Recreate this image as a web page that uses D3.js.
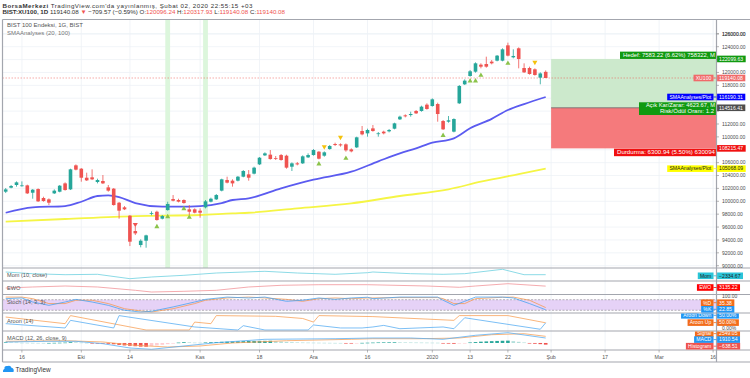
<!doctype html>
<html>
  <head>
    <meta charset="utf-8">
    <script src="https://d3js.org/d3.v7.min.js"></script>
    <style>
      body { margin: 0; background: #fff; }
      svg { display: block; font-family: "Liberation Sans", Arial, sans-serif; }
    </style>
  </head>
  <body>
    <script>
    // daily candles, index 0 = 11 Sep 2019 ... index 100 = 31 Jan 2020
    var opens = [
      101490,102110,102530,102370,102470,101330,101900,100510,100300,101230,
      101490,102780,101850,105580,105060,103660,103720,102990,103150,102160,
      101960,99780,99060,97760,95380,93210,93880,98070,98380,97300,
      98640,100350,100200,100200,98750,98750,98540,99060,99940,100300,
      101650,103300,103200,103200,103820,104180,104290,105730,107130,107240,
      106720,107180,107080,105370,105890,105890,106820,107180,107700,107080,
      108110,108890,108840,108840,108060,108370,110910,110550,111320,110440,
      110810,110860,111270,112720,113340,113390,114020,114020,115000,114790,
      115100,112460,112360,110810,115210,118160,119450,120120,121210,121310,
      121680,121830,121830,124210,122350,123750,120690,120690,120490,119190,
      120096.24];
    var highs = [
      102060,102530,103090,103090,102580,101900,102010,100710,100450,101850,
      102530,102940,105060,105730,105160,104440,104960,103510,104080,102530,
      102060,99890,99260,97870,96060,94090,94810,98440,98540,97870,
      99940,100970,100400,100300,99420,98900,98900,100200,100560,101130,
      103510,103820,103410,103920,104850,104850,105370,106870,107600,107960,
      107030,107340,107230,106040,106100,107130,107440,108110,107800,107750,
      108740,109100,108990,108990,108220,110030,111690,111270,111840,110750,
      110960,111220,112200,113290,113500,113910,114170,114840,115210,115980,
      115310,112620,113240,112880,118050,118930,120380,121570,121420,122450,
      121930,122710,123750,124630,123590,123900,121420,120900,120640,120020,
      120317.93];
    var lows = [
      101280,102010,102270,102270,101130,100400,99890,99940,99420,101130,
      101390,101650,101750,104800,103040,103150,103300,102780,102680,101490,
      99320,97300,98640,93050,94760,92850,92790,97820,96990,97190,
      98540,99990,99830,99630,97870,98130,97450,98900,99830,100200,
      101540,102780,102270,103090,103720,103200,104180,105630,107030,106460,
      106410,106300,105060,104700,105580,105790,106720,107080,106510,106920,
      108010,108580,108480,107700,107600,108270,110240,110030,110810,110030,
      110390,110700,111170,112620,113030,113140,113550,113910,114220,114690,
      112360,111070,112200,110700,115100,118050,119350,119970,120640,120740,
      121260,121730,121730,122500,122190,120640,119920,119660,119500,118160,
      119140.08];
    var closes = [
      101850,102370,102940,102470,101230,101800,99990,100040,99780,101650,
      102420,101750,104960,104910,103660,103250,103410,103300,102780,101650,
      99420,98540,98750,93730,95020,93880,94710,98180,97090,97710,
      99580,100090,99940,99730,98380,98230,98230,99990,100400,100970,
      103410,102890,102780,103820,104700,103660,105220,106770,107440,106560,
      106610,106410,105220,105890,105730,106980,107180,107960,106610,107600,
      108580,108740,108680,107910,107750,109930,110390,111070,110910,110550,
      110550,111070,112100,113140,113190,113550,113650,114690,114330,115830,
      113550,111170,112570,112770,117900,118730,120180,121420,120900,120900,
      121420,122610,123590,122610,122560,122090,120020,119760,119610,119850,
      119140.08];

    // date axis (bar index of each label, future bars included)
    var tickIdx = [3, 14, 23, 36, 47, 57, 67, 79, 86, 93, 101, 111, 121, 131];
    var tickLabels = ["16", "Eki", "14", "Kas", "18", "Ara", "16", "2020", "13", "22", "Şub", "17", "Mar", "16"];
    var priceTicks = d3.range(90000, 126001, 2000);

    // SMA 20 / SMA 100
    var sma20Idx = [0, 5, 11, 14, 17, 19, 21, 24, 29, 32, 36, 38, 40, 42, 45, 51, 57, 64, 69, 73, 76, 79, 83, 86, 90, 93, 96, 100];
    var sma20 = [98220, 99060, 99260, 99930, 100820, 100930, 100660, 99730, 99160, 99160, 99260, 99420, 99730, 100200, 100460, 102010, 103360, 104590, 106200, 107450, 108220, 109090, 109780, 111330, 112800, 114170, 115100, 116190.31];
    var sma100Idx = [0, 11, 24, 36, 42, 45, 54, 64, 73, 82, 88, 95, 100];
    var sma100 = [96830, 97250, 97710, 97870, 98130, 98220, 98910, 99680, 100820, 101860, 103040, 104230, 105068.09];

    // signal markers
    var markIdx = [24, 28, 30, 33, 34, 58, 59, 62, 63, 81, 86, 87, 88, 93, 98];
    var markPrice = [96420, 96050, 97600, 98850, 97510, 105790, 108470, 109930, 106670, 110210, 118670, 118670, 119560, 121420, 121580];
    var markKind = ["sellRed", "buy", "buy", "buy", "buy", "buy", "sell", "sell", "buy", "buy", "buy", "buy", "buy", "buy", "sell"];
    var highlightIdx = [30, 37];

    // long position tool
    var posStart = 101;
    var posTarget = 122099.63, posEntry = 114516.41, posStop = 108215.47;

    // indicators (sampled at bar indices)
    var momIdx = [0, 5, 11, 17, 23, 27, 33, 39, 48, 54, 61, 67, 68, 75, 81, 85, 92, 96, 100];
    var mom = [2610, -520, -2370, -1630, -9750, -6620, -3480, 770, 3910, 770, -1630, 1320, 2610, -520, -1630, -520, 7600, -2370, -2334.67];
    var ewoIdx = [0, 5, 11, 17, 24, 27, 33, 39, 45, 51, 58, 67, 78, 84, 87, 93, 100];
    var ewo = [0, 1670, 3330, 1670, -3830, -6670, -5500, -3830, 1670, 4500, 5500, 5500, 3330, 1170, 3330, 7170, 3135.22];
    var stochIdx = [0, 3, 5, 8, 11, 13, 16, 19, 22, 25, 27, 31, 35, 37, 41, 45, 48, 52, 55, 58, 61, 64, 67, 68, 73, 80, 81, 83, 85, 87, 92, 94, 97, 100];
    var stochK = [86, 90, 67, 48, 67, 82, 67, 48, 20, 10, 14, 39, 67, 82, 95, 90, 95, 71, 77, 90, 82, 90, 94, 86, 95, 95, 77, 48, 71, 95, 95, 90, 58, 22.85];
    var stochD = [95, 95, 86, 58, 58, 77, 77, 58, 29, 16, 10, 29, 58, 77, 90, 95, 90, 82, 71, 86, 90, 86, 90, 90, 92, 92, 86, 58, 58, 86, 94, 95, 77, 35.38];
    var aroonUpIdx = [0, 11, 12, 26, 34, 35, 38, 39, 50, 55, 57, 58, 68, 83, 84, 93, 100];
    var aroonUp = [90, 44, 100, 0, 0, 55, 44, 100, 95, 80, 55, 100, 93, 67, 100, 100, 50];
    var aroonDnIdx = [0, 11, 12, 20, 21, 35, 43, 44, 48, 56, 57, 62, 66, 68, 70, 73, 81, 83, 85, 99, 100];
    var aroonDn = [44, 14, 67, 14, 100, 21, 0, 30, 0, 0, 35, 14, 14, 21, 32, 9, 21, 9, 85, 5, 50];
    var macdIdx = [0, 8, 13, 18, 23, 27, 33, 39, 48, 61, 68, 75, 81, 87, 93, 100];
    var macd = [370, 640, 640, -280, -1930, -2430, -1160, 100, 1410, 1640, 1910, 1910, 1410, 2950, 3950, 1910.54];
    var signalIdx = [0, 11, 18, 24, 30, 36, 42, 52, 64, 68, 77, 84, 90, 96, 100];
    var signal = [640, 870, 380, -900, -1550, -1160, 0, 870, 1410, 1640, 1640, 1910, 3180, 3560, 2549.05];
    var hist = [
      250, 220, 200, 80, 60, 40, 30, 20, 20, 60, 100, 150, 300, 280, 150, 60, -40, -100,
      -200, -300, -500, -750, -950, -1100, -1250, -1400, -1450, -1200, -950, -700, -450, -250,
      150, 300, 250, 150, 120, 200, 300, 380, 450, 520, 600, 650, 700, 750, 780, 800, 820, 850,
      700, 550, 420, 300, 220, 180, 150, 120, 100, 80, 60, 40, 20, -100, -150, -80,
      50, 100, 150, 200, 220, 250, 260, 250, 230, 200, 180, 160, 140, 120, 100,
      -150, -250, -300, -200, -50, 200, 350, 500, 600, 700, 780, 850, 900, 700, 450, 200,
      -150, -300, -450, -638.51];

    var width = 750, height = 378;
    var left = 2.5, axisX = 716.5;
    var upCol = "#26a69a", dnCol = "#ef5350";

    var svg = d3.select("body").append("svg")
      .attr("width", width).attr("height", height);
    svg.append("rect").attr("width", width).attr("height", height).attr("fill", "#fff");

    var x = d3.scaleLinear().domain([0, 131]).range([5.7, 713.1]);
    var y = d3.scaleLinear().domain([90000, 124000]).range([265.7, 46.7]);

    var panes = {
      main: [19.5, 268], mom: [268, 281], ewo: [281, 294.5], stoch: [294.5, 313],
      aroon: [313, 331], macd: [331, 350], axis: [350, 362]
    };
    var defs = svg.append("defs");
    Object.keys(panes).forEach(function(k) {
      defs.append("clipPath").attr("id", "clip-" + k).append("rect")
        .attr("x", left).attr("y", panes[k][0]).attr("width", axisX - left).attr("height", panes[k][1] - panes[k][0]);
      defs.append("clipPath").attr("id", "tag-" + k).append("rect")
        .attr("x", 0).attr("y", panes[k][0] + 0.6).attr("width", width).attr("height", panes[k][1] - panes[k][0] - 0.6);
    });

    // grid
    var grid = svg.append("g");
    grid.selectAll("line.h").data(priceTicks.concat([126000])).join("line")
      .attr("x1", left).attr("x2", axisX).attr("y1", function(d) { return y(d); }).attr("y2", function(d) { return y(d); })
      .attr("stroke", "#eef1f6").attr("stroke-width", 0.8);
    grid.selectAll("line.v").data(tickIdx).join("line")
      .attr("x1", function(d) { return x(d); }).attr("x2", function(d) { return x(d); })
      .attr("y1", 19.5).attr("y2", 350).attr("stroke", "#eef1f6").attr("stroke-width", 0.8);

    // main pane
    var main = svg.append("g").attr("clip-path", "url(#clip-main)");
    main.selectAll("rect.hl").data(highlightIdx).join("rect")
      .attr("x", function(d) { return x(d) - 2.4; }).attr("width", 4.8)
      .attr("y", 19.5).attr("height", 248.5).attr("fill", "#dcf6dc");

    // position tool
    var px0 = x(posStart);
    main.append("rect").attr("x", px0).attr("width", axisX - px0)
      .attr("y", y(posTarget)).attr("height", y(posEntry) - y(posTarget)).attr("fill", "#cce9cc");
    main.append("rect").attr("x", px0).attr("width", axisX - px0)
      .attr("y", y(posEntry)).attr("height", y(posStop) - y(posEntry)).attr("fill", "#f57a7c");
    main.append("line").attr("x1", px0).attr("x2", axisX).attr("y1", y(posEntry)).attr("y2", y(posEntry))
      .attr("stroke", "#666").attr("stroke-width", 0.8);

    // price line
    var last = closes[closes.length - 1];
    main.append("line").attr("x1", left).attr("x2", axisX).attr("y1", y(last)).attr("y2", y(last))
      .attr("stroke", "#ef5350").attr("stroke-opacity", 0.7).attr("stroke-width", 0.7).attr("stroke-dasharray", "1.5,1.5");

    // moving averages
    function smaLine(idx, vals) {
      return d3.line().x(function(d, i) { return x(idx[i]); }).y(function(d) { return y(d); })
        .curve(d3.curveMonotoneX)(vals);
    }
    main.append("path").attr("d", smaLine(sma100Idx, sma100)).attr("fill", "none")
      .attr("stroke", "#f5f545").attr("stroke-width", 1.8);
    main.append("path").attr("d", smaLine(sma20Idx, sma20)).attr("fill", "none")
      .attr("stroke", "#5b5bf0").attr("stroke-width", 1.8);

    // candles
    var bars = d3.range(opens.length);
    var cg = main.append("g");
    cg.selectAll("line").data(bars).join("line")
      .attr("x1", function(i) { return x(i); }).attr("x2", function(i) { return x(i); })
      .attr("y1", function(i) { return y(highs[i]); }).attr("y2", function(i) { return y(lows[i]); })
      .attr("stroke", function(i) { return closes[i] >= opens[i] ? upCol : dnCol; }).attr("stroke-width", 0.8);
    cg.selectAll("rect").data(bars).join("rect")
      .attr("x", function(i) { return x(i) - 1.8; }).attr("width", 3.6)
      .attr("y", function(i) { return y(Math.max(opens[i], closes[i])); })
      .attr("height", function(i) { return Math.max(0.8, Math.abs(y(opens[i]) - y(closes[i]))); })
      .attr("fill", function(i) { return closes[i] >= opens[i] ? upCol : dnCol; });

    // markers
    var markCol = { buy: "#8bc34a", sell: "#f4c20d", sellRed: "#ef5350" };
    main.selectAll("path.mk").data(markIdx).join("path")
      .attr("d", d3.symbol().type(d3.symbolTriangle).size(11))
      .attr("transform", function(d, i) {
        return "translate(" + x(d) + "," + y(markPrice[i]) + ")" + (markKind[i] == "buy" ? "" : " rotate(180)");
      })
      .attr("fill", function(d, i) { return markCol[markKind[i]]; });

    // position labels (cut at the price axis, as on the chart)
    var posLab = main.append("g").attr("font-size", 6).attr("fill", "#fff");
    posLab.append("rect").attr("x", 620).attr("y", y(posTarget) - 7.3).attr("width", axisX - 620).attr("height", 7.3).attr("fill", "#109a10");
    posLab.append("text").attr("x", 623).attr("y", y(posTarget) - 1.6)
      .attr("textLength", 92).attr("lengthAdjust", "spacingAndGlyphs").text("Hedef: 7583.22 (6.62%) 758322, M");
    posLab.append("rect").attr("x", 639).attr("y", y(posEntry) - 5.5).attr("width", axisX - 639).attr("height", 12.7).attr("fill", "#109a10");
    posLab.append("text").attr("x", 646).attr("y", y(posEntry) - 0.3)
      .attr("textLength", 69).attr("lengthAdjust", "spacingAndGlyphs").text("Açık Kar/Zarar: 4623.67, M");
    posLab.append("text").attr("x", 660).attr("y", y(posEntry) + 5.5)
      .attr("textLength", 54).attr("lengthAdjust", "spacingAndGlyphs").text("Risk/Ödül Oranı: 1.2");
    posLab.append("rect").attr("x", 614).attr("y", y(posStop) + 0.3).attr("width", axisX - 614).attr("height", 7.5).attr("fill", "#f01010");
    posLab.append("text").attr("x", 617).attr("y", y(posStop) + 6.1)
      .attr("textLength", 98).attr("lengthAdjust", "spacingAndGlyphs").text("Durdurma: 6300.94 (5.50%) 630094");

    // chart titles
    var tg = svg.append("g").attr("font-size", 6).attr("fill", "#555");
    tg.append("text").attr("x", 7).attr("y", 27.3).text("BIST 100 Endeksi, 1G, BIST");
    tg.append("text").attr("x", 7).attr("y", 35.3).attr("fill", "#777").text("SMAAnalyses (20, 100)");

    // indicator panes
    function pane(name) { return svg.append("g").attr("clip-path", "url(#clip-" + name + ")"); }
    function series(g, idx, vals, sc, col, w) {
      g.append("path").attr("fill", "none").attr("stroke", col).attr("stroke-width", w || 0.8)
        .attr("d", d3.line().x(function(d, i) { return x(idx[i]); }).y(function(d) { return sc(d); })(vals));
    }
    function paneTitle(txt, yy) {
      svg.append("text").attr("x", 7).attr("y", yy).attr("font-size", 5.6).attr("fill", "#555").text(txt);
    }

    var momY = d3.scaleLinear().domain([-14000, 10000]).range([281, 268]);
    series(pane("mom"), momIdx, mom, momY, "#7fd6e3", 0.9);
    paneTitle("Mom (10, close)", 277.3);

    var ewoY = d3.scaleLinear().domain([-10000, 10000]).range([294, 282]);
    series(pane("ewo"), ewoIdx, ewo, ewoY, "#f3a2a6", 0.9);
    paneTitle("EWO", 289.6);

    var stY = d3.scaleLinear().domain([0, 100]).range([313.8, 296.2]);
    var sg = pane("stoch");
    sg.append("rect").attr("x", left).attr("width", axisX - left)
      .attr("y", stY(80)).attr("height", stY(20) - stY(80)).attr("fill", "#e6d2f7");
    [80, 20].forEach(function(v) {
      sg.append("line").attr("x1", left).attr("x2", axisX).attr("y1", stY(v)).attr("y2", stY(v))
        .attr("stroke", "#888").attr("stroke-width", 0.6).attr("stroke-dasharray", "2,1.5");
    });
    series(sg, stochIdx, stochD, stY, "#f59a55");
    series(sg, stochIdx, stochK, stY, "#4aa3f0");
    paneTitle("Stoch (14, 3, 3)", 304);

    var arY = d3.scaleLinear().domain([0, 100]).range([330, 315.6]);
    var ag = pane("aroon");
    series(ag, aroonUpIdx, aroonUp, arY, "#f7a25a");
    series(ag, aroonDnIdx, aroonDn, arY, "#5aaef2");
    paneTitle("Aroon (14)", 322.5);

    var mcY = d3.scaleLinear().domain([-2700, 4600]).range([350, 331]);
    var mg = pane("macd");
    mg.selectAll("rect").data(hist).join("rect")
      .attr("x", function(d, i) { return x(i) - 1.8; }).attr("width", 3.6)
      .attr("y", function(d) { return d >= 0 ? mcY(d) : mcY(0); })
      .attr("height", function(d) { return Math.max(0.6, Math.abs(mcY(d) - mcY(0))); })
      .attr("fill", function(d, i) {
        var prev = i > 0 ? hist[i - 1] : d;
        if (d >= 0) return d >= prev ? "#26a69a" : "#b2dfdb";
        return d <= prev ? "#ef5350" : "#ffcdd2";
      });
    series(mg, signalIdx, signal, mcY, "#f7a25a");
    series(mg, macdIdx, macd, mcY, "#5aaef2");
    paneTitle("MACD (12, 26, close, 9)", 339.5);

    // frame
    var fr = svg.append("g").attr("stroke", "#a3a6ae").attr("stroke-width", 1.2);
    [19.5, 268, 281, 294.5, 313, 331, 350].forEach(function(v) {
      fr.append("line").attr("x1", left).attr("x2", width).attr("y1", v).attr("y2", v);
    });
    fr.append("line").attr("x1", left).attr("x2", width).attr("y1", 362).attr("y2", 362);
    fr.append("line").attr("x1", left).attr("x2", left).attr("y1", 19.5).attr("y2", 362);
    fr.append("line").attr("x1", axisX).attr("x2", axisX).attr("y1", 19.5).attr("y2", 362);

    // price axis (labels that sit under a value tag are left out)
    var tagPrices = [posTarget, last, sma20[sma20.length - 1], posEntry, posStop, sma100[sma100.length - 1]];
    var ax = svg.append("g").attr("font-size", 5).attr("fill", "#4a4a4a");
    priceTicks.concat([126000]).forEach(function(p) {
      ax.append("line").attr("x1", axisX).attr("x2", axisX + 2.5).attr("y1", y(p)).attr("y2", y(p)).attr("stroke", "#888").attr("stroke-width", 0.6);
      var hidden = tagPrices.some(function(t) { return Math.abs(y(t) - y(p)) < 5; });
      if (!hidden) ax.append("text").attr("x", 722).attr("y", y(p) + 1.8).text(d3.format(".2f")(p));
    });
    ax.append("text").attr("x", 722).attr("y", stY(100) + 1.6).text("100.00");
    ax.append("text").attr("x", 722).attr("y", 329.9).text("0.00%");

    // date axis
    var xa = svg.append("g").attr("font-size", 5.3).attr("fill", "#555").attr("text-anchor", "middle");
    tickIdx.forEach(function(d, i) {
      xa.append("line").attr("x1", x(d)).attr("x2", x(d)).attr("y1", 350).attr("y2", 352.5).attr("stroke", "#888").attr("stroke-width", 0.6);
      xa.append("text").attr("x", x(d)).attr("y", 358.6).text(tickLabels[i]);
    });

    // axis tags
    function tags(paneName) { return svg.append("g").attr("clip-path", "url(#tag-" + paneName + ")"); }
    function valueTag(g, yc, txt, bg, fg) {
      var t = g.append("text").attr("x", axisX + 2.6).attr("y", yc + 1.8).attr("font-size", 5.1).attr("fill", fg).text(txt);
      var w = t.node().getComputedTextLength();
      g.insert("rect", function() { return t.node(); }).attr("x", axisX + 0.6).attr("y", yc - 3.3)
        .attr("width", w + 4.5).attr("height", 6.6).attr("fill", bg);
    }
    function nameTag(g, yc, txt, bg, fg) {
      var t = g.append("text").attr("y", yc + 1.8).attr("font-size", 5.1).attr("fill", fg).text(txt);
      var w = t.node().getComputedTextLength();
      t.attr("x", axisX - 3 - w - 2.2);
      g.insert("rect", function() { return t.node(); }).attr("x", axisX - 3 - w - 4.4).attr("y", yc - 3.3)
        .attr("width", w + 4.4).attr("height", 6.6).attr("fill", bg);
      g.append("line").attr("x1", axisX - 3).attr("x2", axisX).attr("y1", yc).attr("y2", yc).attr("stroke", bg).attr("stroke-width", 0.8);
    }
    var mt = tags("main");
    valueTag(mt, y(posTarget), "122099.63", "#109a10", "#fff");
    nameTag(mt, y(last), "XU100", "#f06a6a", "#fff");
    valueTag(mt, y(last), "119140.08", "#f06a6a", "#fff");
    nameTag(mt, y(sma20[sma20.length - 1]), "SMAAnalyses/Plot", "#0000ff", "#fff");
    valueTag(mt, y(sma20[sma20.length - 1]), "116190.31", "#0000ff", "#fff");
    valueTag(mt, y(posEntry), "114516.41", "#4d4d4d", "#fff");
    valueTag(mt, y(posStop), "108215.47", "#f01010", "#fff");
    nameTag(mt, y(sma100[sma100.length - 1]), "SMAAnalyses/Plot", "#ffff00", "#222");
    valueTag(mt, y(sma100[sma100.length - 1]), "105068.09", "#ffff00", "#222");

    var t1 = tags("mom");
    nameTag(t1, 275.8, "Mom", "#2ac4d8", "#222");
    valueTag(t1, 275.8, "−2334.67", "#2ac4d8", "#222");
    var t2 = tags("ewo");
    nameTag(t2, 287.5, "EWO", "#ff0000", "#fff");
    valueTag(t2, 287.5, "3135.22", "#ff0000", "#fff");
    var t3 = tags("stoch");
    nameTag(t3, 302.7, "%D", "#f26c1a", "#fff");
    valueTag(t3, 302.7, "35.38", "#f26c1a", "#fff");
    nameTag(t3, 309.3, "%K", "#2196f3", "#fff");
    valueTag(t3, 309.3, "22.85", "#2196f3", "#fff");
    var t4 = tags("aroon");
    nameTag(t4, 315.3, "Aroon Down", "#2196f3", "#fff");
    valueTag(t4, 315.3, "50.00%", "#2196f3", "#fff");
    nameTag(t4, 322.6, "Aroon Up", "#f26c1a", "#fff");
    valueTag(t4, 322.6, "50.00%", "#f26c1a", "#fff");
    var t5 = tags("macd");
    nameTag(t5, 333.6, "Signal", "#f26c1a", "#fff");
    valueTag(t5, 333.6, "2549.05", "#f26c1a", "#fff");
    nameTag(t5, 339.6, "MACD", "#2196f3", "#fff");
    valueTag(t5, 339.6, "1910.54", "#2196f3", "#fff");
    nameTag(t5, 346.2, "Histogram", "#ef5350", "#fff");
    valueTag(t5, 346.2, "−638.51", "#ef5350", "#fff");

    // header
    var hd = svg.append("g").attr("font-size", 6.2).attr("fill", "#333");
    var l1 = hd.append("text").attr("x", 2.5).attr("y", 8)
      .attr("textLength", 250).attr("lengthAdjust", "spacing");
    l1.append("tspan").attr("font-weight", "bold").text("BorsaMerkezi");
    l1.append("tspan").text(" TradingView.com'da yayınlanmış, Şubat 02, 2020 22:55:15 +03");
    var l2 = hd.append("text").attr("x", 2.5).attr("y", 14.2);
    l2.append("tspan").attr("font-weight", "bold").text("BIST:XU100, 1D");
    l2.append("tspan").text(" 119140.08 ");
    l2.append("tspan").attr("fill", "#ef5350").text("▼");
    l2.append("tspan").text(" −709.57 (−0.59%) O:");
    l2.append("tspan").attr("fill", "#ef5350").text("120096.24");
    l2.append("tspan").text(" H:");
    l2.append("tspan").attr("fill", "#ef5350").text("120317.93");
    l2.append("tspan").text(" L:");
    l2.append("tspan").attr("fill", "#ef5350").text("119140.08");
    l2.append("tspan").text(" C:");
    l2.append("tspan").attr("fill", "#ef5350").text("119140.08");

    // logo
    var lg = svg.append("g");
    lg.append("path").attr("d", "M3,372 L13.5,372 Q14.5,368.5 11.5,367.8 Q10.5,364.8 7.5,366 Q4,365.5 4.5,368.8 Q2.5,369.5 3,372 Z")
      .attr("fill", "#2196f3");
    lg.append("text").attr("x", 15.5).attr("y", 371.5).attr("font-size", 6.4).attr("fill", "#333").text("TradingView");
    </script>
  </body>
</html>
